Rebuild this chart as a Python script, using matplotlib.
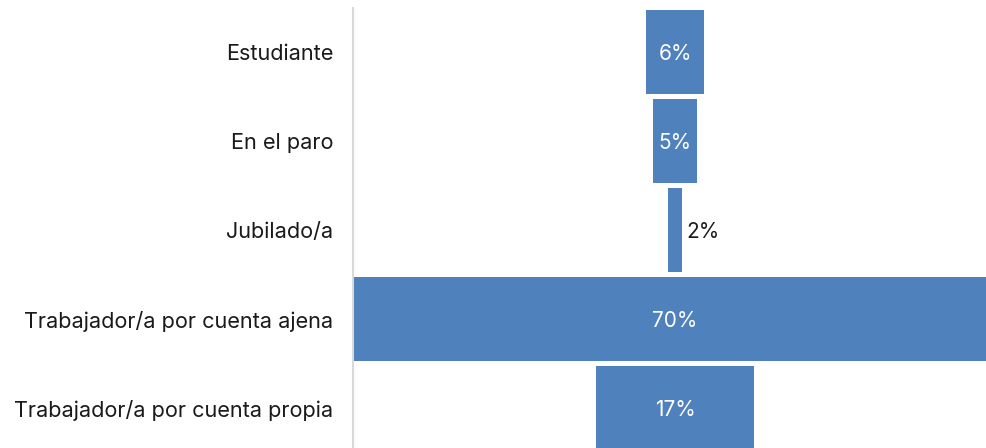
import matplotlib
matplotlib.use('Agg')
import matplotlib.pyplot as plt

categorias = ['Estudiante', 'En el paro', 'Jubilado/a',
              'Trabajador/a por cuenta ajena', 'Trabajador/a por cuenta propia']
porcentajes = [6.2, 4.7, 1.5, 70.0, 17.1]

plt.rcParams['font.family'] = ['Inter', 'DejaVu Sans']

fig = plt.figure(figsize=(9.86, 4.48), dpi=100)
# el eje va más allá del borde derecho: la barra del 70% queda cortada
ax = fig.add_axes([353 / 986, 0.0, 644 / 986, 440 / 448])

y_pos = list(range(len(categorias)))
izquierda = [-v / 2 for v in porcentajes]
ax.barh(y_pos, porcentajes, left=izquierda, height=0.944, color='#4f81bd')

ax.set_xlim(-35, 35)
ax.set_ylim(4.449, -0.494)
ax.set_yticks(y_pos)
ax.set_yticklabels(categorias, fontsize=15.6, color='#1a1a1a')
ax.tick_params(axis='y', length=0, pad=14)
ax.set_xticks([])

for s in ['top', 'right', 'bottom']:
    ax.spines[s].set_visible(False)
ax.spines['left'].set_color('#d9d9d9')
ax.spines['left'].set_linewidth(1.5)

for y, v in zip(y_pos, porcentajes):
    texto = '{:.0f}%'.format(v)
    if v < 3:
        ax.text(v / 2 + 0.5, y + 0.02, texto, ha='left', va='center', fontsize=15, color='#1a1a1a')
    else:
        ax.text(0, y + 0.02, texto, ha='center', va='center', fontsize=15, color='white')

fig.savefig('out.png', dpi=100)
